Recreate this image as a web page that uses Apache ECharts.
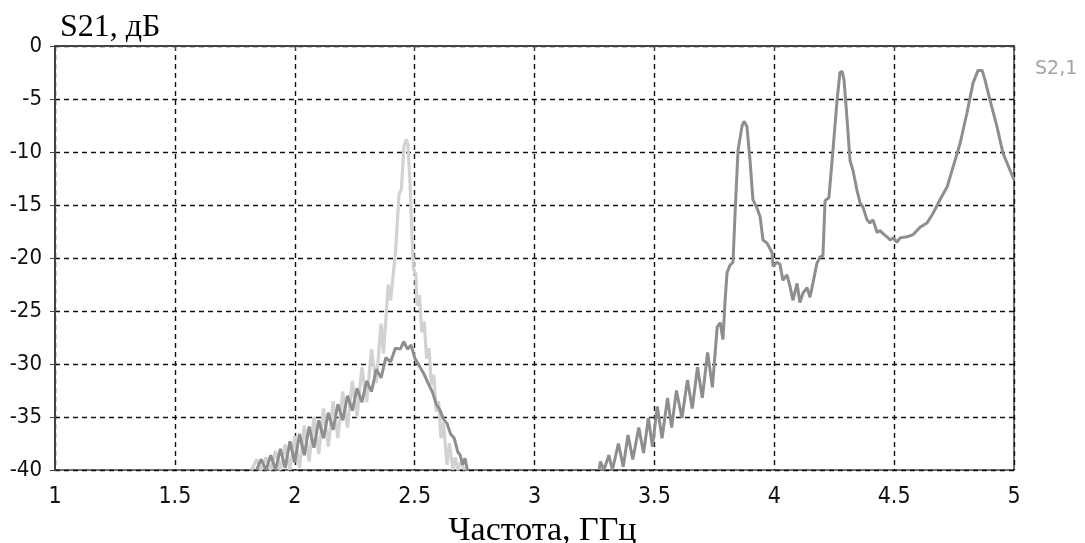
<!DOCTYPE html>
<html>
<head>
<meta charset="utf-8">
<script src="https://cdn.jsdelivr.net/npm/echarts@6/dist/echarts.min.js"></script>
<style>
  html, body { margin: 0; padding: 0; background: #fff; }
  #chart { width: 1085px; height: 543px; }
</style>
</head>
<body>
<div id="chart"></div>
<script>
// Transmission |S21| vs frequency: two traces, values in dB.
// Frequencies in GHz, levels in dB (points below -40 dB are off-scale).

// Light trace (S2,1), lower band
const lightFreq = [
  1.82, 1.84, 1.86, 1.88, 1.90, 1.92, 1.94, 1.96, 1.98, 2.00,
  2.02, 2.04, 2.06, 2.08, 2.10, 2.12, 2.14, 2.16, 2.18, 2.20,
  2.22, 2.24, 2.26, 2.28, 2.30, 2.32, 2.34, 2.36, 2.37, 2.39,
  2.40, 2.42, 2.435, 2.445, 2.455, 2.465, 2.472, 2.48, 2.49, 2.495,
  2.505, 2.51, 2.52, 2.53, 2.54, 2.55, 2.56, 2.57, 2.58, 2.59,
  2.60, 2.61, 2.62, 2.635, 2.645, 2.66, 2.67, 2.68, 2.69, 2.71
];
const lightDb = [
  -40, -39.0, -40, -38.8, -40, -38.2, -40, -37.6, -40, -36.8,
  -39.8, -35.8, -39.2, -35.0, -38.5, -34.2, -37.8, -33.5, -37.0, -32.6,
  -36.0, -31.6, -35.0, -30.3, -33.6, -28.6, -31.8, -26.2, -29.0, -22.5,
  -24.0, -19.5, -14.0, -13.5, -9.5, -8.8, -9.3, -12.5, -18.5, -21.0,
  -21.5, -24.5, -23.5, -27.0, -26.0, -29.5, -28.5, -32.0, -31.0, -34.5,
  -33.5, -37.0, -35.5, -39.5, -37.5, -40, -38.8, -40, -39.3, -40
];

// Dark trace, lower band
const darkLowFreq = [
  1.84, 1.86, 1.88, 1.90, 1.92, 1.94, 1.96, 1.98, 2.00, 2.02,
  2.04, 2.06, 2.08, 2.10, 2.12, 2.14, 2.16, 2.18, 2.20, 2.22,
  2.24, 2.26, 2.28, 2.30, 2.32, 2.34, 2.36, 2.38, 2.40, 2.42,
  2.44, 2.455, 2.47, 2.485, 2.50, 2.52, 2.54, 2.56, 2.575, 2.59,
  2.605, 2.62, 2.635, 2.65, 2.665, 2.68, 2.69, 2.70, 2.71, 2.72
];
const darkLowDb = [
  -40, -39.0, -40, -38.6, -40, -38.0, -39.8, -37.3, -39.3, -36.6,
  -38.6, -35.9, -37.9, -35.3, -37.0, -34.6, -36.2, -33.8, -35.3, -33.0,
  -34.4, -32.3, -33.6, -31.6, -32.6, -30.5, -31.3, -29.4, -29.8, -28.5,
  -28.6, -27.9, -28.6, -28.2, -29.4, -30.2, -31.0, -32.0, -32.7, -33.8,
  -34.3, -35.2, -35.6, -36.6, -37.0, -38.3, -38.6, -39.5, -38.9, -40
];

// Dark trace, upper band with three resonances
const darkHighFreq = [
  3.27, 3.275, 3.29, 3.31, 3.325, 3.35, 3.37, 3.39, 3.41, 3.435,
  3.455, 3.475, 3.492, 3.512, 3.532, 3.555, 3.572, 3.592, 3.615, 3.638,
  3.658, 3.68, 3.70, 3.722, 3.742, 3.762, 3.775, 3.786, 3.795, 3.803,
  3.815, 3.828, 3.836, 3.849, 3.866, 3.874, 3.886, 3.899, 3.911, 3.928,
  3.941, 3.953, 3.970, 3.991, 3.995, 4.011, 4.024, 4.036, 4.053, 4.066,
  4.078, 4.095, 4.107, 4.120, 4.137, 4.149, 4.162, 4.178, 4.191, 4.203,
  4.212, 4.228, 4.245, 4.262, 4.274, 4.283, 4.291, 4.303, 4.316, 4.328,
  4.345, 4.358, 4.370, 4.387, 4.399, 4.412, 4.429, 4.441, 4.454, 4.470,
  4.483, 4.495, 4.512, 4.525, 4.554, 4.579, 4.608, 4.637, 4.662, 4.691,
  4.721, 4.746, 4.775, 4.804, 4.829, 4.850, 4.867, 4.879, 4.900, 4.929,
  4.954, 4.983, 5.0
];
const darkHighDb = [
  -40, -39.2, -40, -38.6, -40, -37.5, -39.7, -36.7, -39.0, -36.0,
  -38.4, -35.1, -37.8, -34.0, -37.0, -33.2, -36.0, -32.5, -35.1, -31.5,
  -34.2, -30.3, -33.2, -28.9, -32.2, -26.5, -26.1, -27.7, -24.0, -21.4,
  -20.7, -20.4, -16.1, -9.8, -7.5, -7.1, -7.6, -10.8, -14.5, -15.3,
  -16.1, -18.3, -18.6, -19.5, -20.8, -20.4, -20.6, -22.1, -21.6, -22.7,
  -24.0, -22.4, -24.2, -23.3, -22.8, -23.7, -22.3, -20.5, -19.9, -19.8,
  -14.6, -14.3, -9.8, -5.1, -2.5, -2.4, -3.2, -6.7, -10.8, -11.7,
  -13.6, -14.8, -15.2, -16.4, -16.7, -16.4, -17.6, -17.4, -17.7, -18.0,
  -18.3, -18.1, -18.5, -18.1, -18.0, -17.8, -17.1, -16.7, -15.8, -14.5,
  -13.3, -11.4, -9.2, -6.3, -3.5, -2.3, -2.3, -3.2, -5.1, -7.6,
  -10.1, -11.7, -12.6
];

const zip = (xs, ys) => xs.map((x, i) => [x, ys[i]]);

const lightData = zip(lightFreq, lightDb);
// the two bands of the dark trace are separated by a gap (null point)
const darkData = zip(darkLowFreq, darkLowDb)
  .concat([[3.0, null]])
  .concat(zip(darkHighFreq, darkHighDb));

const chart = echarts.init(document.getElementById('chart'));

const gridLine = { show: true, lineStyle: { color: '#111', width: 1.4, type: [5, 4] } };
const axisLine = { show: true, lineStyle: { color: '#444', width: 2 } };
const tickFont = '"DejaVu Sans Condensed", "DejaVu Sans", sans-serif';

function tickLabel(size, margin) {
  return {
    color: '#111', fontFamily: tickFont, fontSize: size, margin: margin,
    formatter: '{t|{value}}',
    rich: { t: { fontFamily: tickFont, fontSize: size, color: '#111' } }
  };
}

chart.setOption({
  animation: false,
  backgroundColor: '#fff',
  grid: {
    left: 55, right: 71, top: 46, bottom: 73,
    containLabel: false, outerBoundsMode: 'none',
    show: true, borderColor: '#444', borderWidth: 1.5, backgroundColor: 'transparent'
  },
  legend: {
    data: ['S2,1'],
    left: 1024, top: 55,
    itemWidth: 0, itemHeight: 0,
    textStyle: { color: '#a4a4a4', fontFamily: 'DejaVu Sans', fontSize: 19 }
  },
  xAxis: {
    type: 'value', min: 1, max: 5, interval: 0.5,
    name: 'Частота, ГГц', nameLocation: 'middle', nameGap: 31,
    nameTextStyle: { fontFamily: 'Liberation Serif', fontSize: 34, color: '#000', padding: [0, 0, 0, 16] },
    axisLine: axisLine,
    axisTick: { show: true, length: 5, lineStyle: { color: '#444', width: 1 } },
    axisLabel: tickLabel(23, 16),
    splitLine: gridLine
  },
  yAxis: {
    type: 'value', min: -40, max: 0, interval: 5,
    name: 'S21, дБ', nameLocation: 'end', nameGap: 2,
    nameTextStyle: { fontFamily: 'Liberation Serif', fontSize: 32, color: '#000', align: 'left', padding: [0, 0, 0, 5] },
    axisLine: axisLine,
    axisTick: { show: true, length: 5, lineStyle: { color: '#444', width: 1 } },
    axisLabel: tickLabel(22, 13),
    splitLine: gridLine
  },
  series: [
    {
      name: 'S2,1', type: 'line', data: lightData,
      showSymbol: false, symbol: 'none',
      lineStyle: { color: '#d2d2d2', width: 3.2 },
      itemStyle: { color: '#d2d2d2' },
      z: 2
    },
    {
      name: 'S2,1 (2)', type: 'line', data: darkData,
      showSymbol: false, symbol: 'none', connectNulls: false,
      lineStyle: { color: '#8e8e8e', width: 3 },
      itemStyle: { color: '#8e8e8e' },
      z: 3
    }
  ]
});
</script>
</body>
</html>
